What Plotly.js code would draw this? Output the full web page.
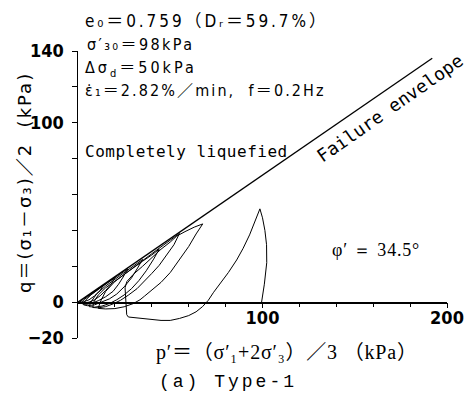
<!DOCTYPE html>
<html>
<head>
<meta charset="utf-8">
<script src="https://cdn.plot.ly/plotly-2.35.2.min.js"></script>
<style>
  html, body { margin: 0; padding: 0; background: #fff; }
  #chart { width: 468px; height: 401px; }
</style>
</head>
<body>
<div id="chart"></div>
<script>
// Failure envelope (p', q) end points, kPa
const envP = [0, 192];
const envQ = [0, 136];

// Effective stress path of the cyclic undrained test, kPa
const pathP = [
  99.5, 101, 102.3, 102.2, 101.3, 100, 98.6,
  96, 93, 89.5, 86, 81.5, 77, 73.5, 70.6, 67.5, 64, 60, 55, 50, 45, 40.8, 35, 31, 27.3, 26.4,
  26.2, 25.8, 25.5, 26.5, 30, 35, 40, 45, 50, 53.5, 58, 63, 67.6,
  64, 60, 55, 50, 45, 40, 36, 33.6, 30, 25, 20, 15, 11,
  12, 15, 20, 25, 30, 35, 40, 45, 50, 55,
  52, 48, 44, 40, 36, 32, 27.3, 23, 19, 15, 11, 8,
  8.5, 11, 15, 20, 25, 30, 35, 40, 44,
  41, 37, 33, 29, 25, 21, 17, 13, 9, 6,
  7, 10, 15, 20, 25, 30, 35,
  32, 29, 25, 21, 17, 13, 9, 5, 3,
  4, 7, 12, 17, 22, 27,
  24.5, 22, 19, 15, 11, 7, 4, 2,
  3, 7, 12, 16, 20,
  18, 15, 12, 9, 6, 3, 1,
  3, 7, 11, 14,
  12, 9, 6, 3, 1
];
const pathQ = [
  0, 10, 22, 32, 40, 47, 52,
  45, 37.5, 30, 23.5, 16.5, 10.4, 5.5, 1, -2.5, -5.4, -7.5, -9.1, -10.2, -10.2, -9.7, -9, -8.7, -8.3, -7,
  -3, 3, 8, 11.5, 15.5, 20, 25, 29.5, 33.5, 36.8, 39.3, 41.8, 43.6,
  38, 31, 23.5, 16.5, 11, 6.5, 3.3, 1.3, -0.8, -2.6, -3.6, -3.8, -3.5,
  0, 6, 11.5, 15.5, 19.5, 23.5, 27, 30.8, 34.5, 38.3,
  32, 26, 20.5, 16, 11.5, 7.5, 3.9, 1, -1, -2.5, -3.2, -3,
  0, 4, 8, 11.8, 15.5, 19.2, 22.8, 26.3, 29.5,
  24, 17.5, 12, 7.5, 4, 1.3, -0.8, -2.2, -2.8, -2.5,
  0, 4.5, 9, 12.8, 16.5, 20.2, 23.8,
  18.5, 13.5, 8.5, 4.5, 1.8, 0, -1.5, -2, -1.5,
  1, 4, 7.8, 11.3, 15, 18.6,
  14, 10, 6, 3, 0.8, -0.8, -1.3, -0.8,
  1.2, 4.3, 8, 11, 13.8,
  10, 6.5, 3.5, 1.3, 0, -0.5, 0,
  1.8, 4.6, 7.5, 9.7,
  6.5, 3.5, 1.3, 0.2, 0
];

// Axis ticks: labelled values, plus unlabelled ticks every 20 kPa
const yTickVals = [-20, 0, 100, 140];
const yTickText = ['\u221220', '0', '100', '140'];
const yStepVals = [-20, 0, 20, 40, 60, 80, 100, 120, 140];
const xTickVals = [100, 200];
const xTickText = ['100', '200'];
const xStepVals = [20, 40, 60, 80, 100, 120, 140, 160, 180, 200];

const tickFont = { family: '"Liberation Sans Narrow", "DejaVu Sans Condensed", sans-serif', size: 18, color: '#000', weight: 'bold' };
const condFont = '"DejaVu Sans Condensed", "DejaVu Sans", "Noto Sans CJK JP", sans-serif';

// plot area in pixels: x 78..447, y 51..338
const PX = px => (px - 78) / 369;
const PY = py => (338 - py) / 287;

const traces = [
  {
    x: envP, y: envQ, type: 'scatter', mode: 'lines',
    line: { color: '#000', width: 1.3 }, hoverinfo: 'skip', cliponaxis: false
  },
  {
    x: pathP, y: pathQ, type: 'scatter', mode: 'lines',
    line: { color: '#000', width: 1 }, hoverinfo: 'skip'
  },
  { x: [], y: [], xaxis: 'x2', yaxis: 'y2', type: 'scatter', mode: 'lines', hoverinfo: 'skip' }
];

// letter spacing (px) applied to each note after drawing, by annotation index
const spacing = [];
const note = (px, py, text, font, ls, extra) => {
  spacing.push(ls);
  return Object.assign({
    xref: 'paper', yref: 'paper', x: PX(px), y: PY(py),
    xanchor: 'left', yanchor: 'middle', align: 'left', showarrow: false, text: text, font: font
  }, extra || {});
};

const annotations = [
  note(83, 21, 'e\u2080\uFF1D0.759\uFF08D\u1D63\uFF1D59.7%\uFF09',
       { family: condFont, size: 17, color: '#000' }, 2.9),
  note(85, 45, '\u03C3\u2032\u2083\u2080\uFF1D98kPa',
       { family: condFont, size: 16, color: '#000' }, 2.4),
  note(83, 69, '\u0394\u03C3<span style="font-size:11px;baseline-shift:-4px">d</span>\uFF1D50kPa',
       { family: condFont, size: 16, color: '#000' }, 3),
  note(83, 90, '\u03B5\u0307\u2081\uFF1D2.82%\uFF0Fmin,  f\uFF1D0.2Hz',
       { family: condFont, size: 16, color: '#000' }, 2.1),
  note(83, 151, 'Completely liquefied',
       { family: '"DejaVu Sans Mono", monospace', size: 16, color: '#000' }, 0.5),
  note(389, 108, 'Failure envelope',
       { family: '"DejaVu Sans Mono", monospace', size: 18, color: '#000' }, 0,
       { xanchor: 'center', align: 'center', textangle: -35 }),
  note(330, 250, '\u03C6\u2032 \uFF1D 34.5\u00B0',
       { family: '"Liberation Serif", serif', size: 18, color: '#000' }, 0.8),
  note(154, 352, 'p\u2032\uFF1D\uFF08\u03C3\u2032\u2081+2\u03C3\u2032\u2083\uFF09\uFF0F3 \uFF08kPa\uFF09',
       { family: '"Liberation Serif", "DejaVu Serif", "Noto Sans CJK JP", serif', size: 20, color: '#000' }, 0.8),
  note(157, 382, '(a) Type-1',
       { family: '"Liberation Mono", monospace', size: 18, color: '#000' }, 3),
  note(24, 183, 'q\uFF1D(\u03C3\u2081\uFF0D\u03C3\u2083)\uFF0F2  (kPa)',
       { family: '"DejaVu Sans", "Noto Sans CJK JP", sans-serif', size: 18, color: '#000' }, 2,
       { xanchor: 'center', align: 'center', textangle: -90 })
];

const baseX = {
  range: [0, 200], anchor: 'free', position: 0.125,
  showgrid: false, zeroline: false,
  ticks: 'outside', ticklen: 4, tickwidth: 1, tickcolor: '#000'
};
const baseY = {
  range: [-20, 140],
  showgrid: false, zeroline: false,
  ticks: 'outside', ticklen: 5, tickwidth: 1, tickcolor: '#000'
};

const layout = {
  width: 468, height: 401,
  margin: { l: 78, r: 21, t: 51, b: 63, pad: 0 },
  paper_bgcolor: '#fff', plot_bgcolor: '#fff',
  showlegend: false,
  xaxis: Object.assign({}, baseX, {
    showline: true, linecolor: '#000', linewidth: 1.5,
    tickmode: 'array', tickvals: xTickVals, ticktext: xTickText,
    ticklabelstandoff: -5, tickfont: tickFont
  }),
  xaxis2: Object.assign({}, baseX, {
    overlaying: 'x', showline: false,
    tickmode: 'array', tickvals: xStepVals, showticklabels: false
  }),
  yaxis: Object.assign({}, baseY, {
    showline: true, linecolor: '#000', linewidth: 1.5,
    tickmode: 'array', tickvals: yTickVals, ticktext: yTickText,
    ticklabelstandoff: 4, tickfont: tickFont
  }),
  yaxis2: Object.assign({}, baseY, {
    overlaying: 'y', side: 'left', anchor: 'x', showline: false,
    tickmode: 'array', tickvals: yStepVals, showticklabels: false
  }),
  annotations: annotations
};

Plotly.newPlot('chart', traces, layout, { staticPlot: true, displayModeBar: false }).then(gd => {
  gd.querySelectorAll('.annotation').forEach(g => {
    const i = +g.getAttribute('data-index');
    const ls = spacing[i];
    if (ls) {
      const t = g.querySelector('text.annotation-text');
      if (t) t.style.letterSpacing = ls + 'px';
    }
  });
});
</script>
</body>
</html>
